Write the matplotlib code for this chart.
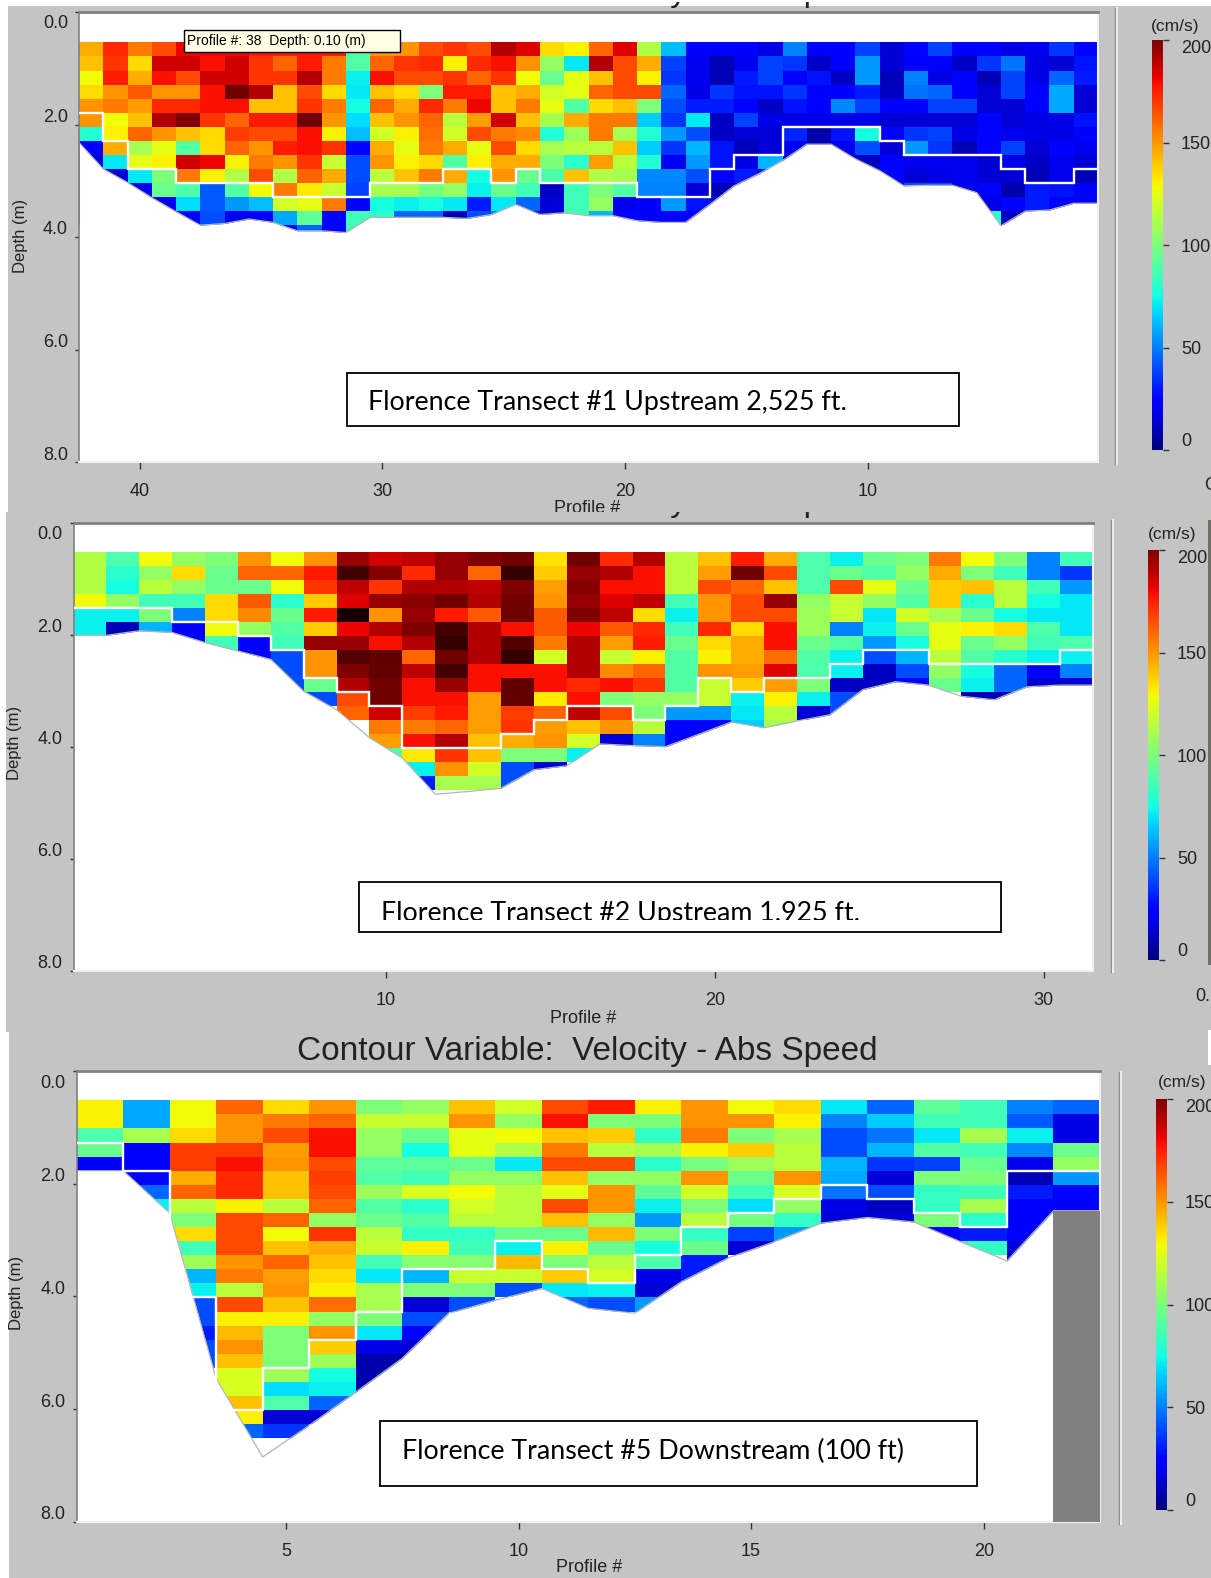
import numpy as np
import matplotlib
matplotlib.use('Agg')
import matplotlib.pyplot as plt
from matplotlib.colors import ListedColormap, Normalize
from matplotlib.colorbar import ColorbarBase
from matplotlib.patches import Rectangle

plt.rcParams['font.family'] = ['Liberation Sans', 'DejaVu Sans']

W, H = 1211, 1578
n = np.nan

# velocity per depth row (top to bottom), left to right as drawn
speed_1 = [
    [145,172,155,165,180,180,180,175,175,175,175,90,150,150,165,170,165,190,182,135,130,160,182,112,62,22,22,22,18,50,22,22,38,15,25,38,22,22,18,20,35,25],
    [140,170,135,185,185,178,185,170,160,175,155,90,160,170,172,130,172,178,150,105,70,190,165,145,38,20,10,20,38,35,12,22,55,15,22,22,12,35,48,18,15,28],
    [128,175,145,178,165,185,185,170,170,190,155,72,178,165,165,170,160,170,128,95,125,140,165,130,35,20,10,30,38,22,28,12,55,10,50,18,25,10,38,18,45,30],
    [135,150,162,150,150,178,205,190,140,165,135,70,140,135,100,175,175,140,145,120,125,160,165,165,45,18,35,28,28,35,22,22,30,12,48,45,22,15,38,22,58,15],
    [150,155,148,172,172,178,178,140,140,170,155,75,160,145,172,155,180,140,155,125,90,135,140,100,40,30,30,22,12,28,22,52,38,22,22,38,38,15,15,22,58,15],
    [150,128,140,190,200,170,160,175,175,205,150,68,140,150,160,115,148,185,140,110,145,155,155,65,35,70,12,38,18,18,18,18,18,15,15,15,15,22,15,18,18,28],
    [78,130,160,150,140,135,168,165,165,178,130,62,120,130,158,120,165,155,152,78,108,155,110,78,55,40,12,15,15,32,8,28,75,25,35,38,18,25,20,18,18,22],
    [25,145,110,125,90,135,160,150,175,178,170,25,145,125,155,145,125,165,135,110,115,115,140,65,35,60,28,10,15,20,10,20,40,15,55,35,10,25,38,15,22,20],
    [15,70,125,130,185,180,130,155,150,170,118,40,150,130,135,90,130,145,145,100,80,148,115,78,20,55,28,18,60,15,10,20,12,25,20,20,20,15,18,12,20,15],
    [15,15,70,100,155,130,112,165,112,160,145,40,115,140,155,145,75,150,95,88,140,112,110,52,52,40,25,30,25,25,25,22,22,25,15,18,20,15,15,10,20,10],
    [15,15,20,95,88,42,90,128,155,132,118,38,110,110,98,105,72,95,85,12,85,100,90,50,50,15,10,15,15,15,15,15,15,15,40,40,20,22,8,30,28,22],
    [15,15,20,20,68,42,55,62,120,125,155,25,75,72,75,70,30,70,45,15,85,105,20,22,55,28,15,15,15,15,15,15,15,15,15,15,15,18,25,30,22,22],
    [15,15,20,20,25,40,20,22,58,92,25,85,80,45,45,10,40,50,30,15,85,60,25,25,22,22,15,15,15,15,15,15,15,15,15,15,15,80,12,15,15,15],
    [n,n,n,n,n,40,20,22,25,45,25,85] + [n] * 30,
]
bed_1 = [2.32,2.79,3.03,3.30,3.55,3.79,3.76,3.68,3.74,3.89,3.89,3.92,3.65,3.65,3.65,3.65,3.67,3.60,3.42,3.60,3.57,3.62,3.62,
         3.71,3.74,3.74,3.42,3.09,2.88,2.64,2.35,2.35,2.61,2.82,3.09,3.08,3.08,3.21,3.80,3.54,3.52,3.40,3.40]
good_1 = [1.79,2.29,2.79,2.79,3.04,3.04,3.04,3.04,3.29,3.29,3.29,3.29,3.04,3.04,3.04,2.79,2.79,3.04,2.79,3.04,3.04,3.04,3.04,
          3.29,3.29,3.29,2.79,2.54,2.54,2.04,2.04,2.04,2.04,2.29,2.54,2.54,2.54,2.54,2.79,3.04,3.04,2.79]
ticks_1 = [40, 30, 20, 10]

speed_2 = [
    [112,88,128,105,100,150,128,150,195,185,188,195,200,205,133,205,172,190,115,140,175,145,88,72,95,100,155,128,100,50,85],
    [112,80,105,135,95,160,160,175,220,198,172,195,160,225,138,195,190,178,115,148,205,165,88,95,90,105,145,100,85,50,35],
    [112,75,115,105,95,95,128,170,188,170,190,190,188,200,148,198,178,178,115,165,160,140,88,165,125,95,138,140,115,85,55],
    [128,105,85,85,135,162,80,138,182,195,197,205,190,205,150,195,182,188,85,150,165,195,105,118,105,90,138,80,115,75,70],
    [72,72,100,50,135,152,95,175,235,150,195,175,162,205,162,200,188,135,72,150,165,165,108,118,70,120,110,95,75,70,70],
    [72,10,60,25,128,105,90,138,180,190,200,220,190,178,162,180,162,172,85,172,135,178,108,50,72,95,125,130,135,88,70],
    [72,10,60,25,85,25,85,195,195,178,190,225,190,215,155,190,148,175,95,135,145,178,95,90,55,75,125,95,105,85,88],
    [72,10,60,25,85,25,40,150,215,210,160,205,190,225,120,190,118,130,90,130,145,158,90,72,40,60,115,90,80,72,72],
    [n,n,n,n,n,25,40,150,200,210,188,220,178,178,178,190,152,160,90,150,148,182,88,72,12,40,105,75,45,25,50],
    [n,n,n,n,n,n,40,95,190,205,178,195,178,210,178,172,178,170,90,118,138,148,100,12,12,25,95,72,45,15,15],
    [n,n,n,n,n,n,40,40,165,205,178,178,148,210,132,178,100,105,105,118,72,130,72,40,n,n,n,10,10,n,n],
    [n,n,n,n,n,n,n,n,160,185,168,175,148,168,160,188,165,100,55,55,70,115,15,40] + [n] * 7,
    [n] * 9 + [155,155,160,148,170,148,140,150,115,25,25,65,110] + [n] * 9,
    [n] * 9 + [148,178,190,140,145,150,120,15,50,25,25] + [n] * 11,
    [n] * 9 + [90,132,170,140,100,100,72,15] + [n] * 14,
    [n] * 10 + [72,150,120,40,15] + [n] * 16,
    [n] * 10 + [30,110,110,40] + [n] * 17,
]
bed_2 = [2.01,2.01,1.93,1.96,2.14,2.29,2.44,3.01,3.34,3.84,4.20,4.85,4.80,4.74,4.41,4.34,3.95,3.98,4.00,3.78,3.56,3.66,3.54,3.43,
         2.98,2.84,2.90,3.10,3.16,2.93,2.90,2.90]
good_2 = [1.53,1.53,1.53,1.78,1.78,2.03,2.28,2.78,3.03,3.28,4.03,4.03,4.03,3.78,3.53,3.28,3.28,3.53,3.28,2.78,3.03,2.78,2.78,2.53,
          2.28,2.28,2.53,2.53,2.53,2.53,2.28]
ticks_2 = [10, 20, 30]

speed_3 = [
    [130,58,128,160,135,150,100,105,140,120,165,175,130,150,128,135,70,45,92,85,50,45],
    [130,58,128,150,155,160,118,118,150,105,178,100,100,150,150,130,50,65,85,85,42,18],
    [88,110,135,150,165,178,105,95,125,128,140,138,82,155,100,110,40,48,70,110,72,18],
    [95,22,168,168,148,178,105,75,125,112,155,115,110,130,138,115,40,60,90,85,52,95],
    [22,22,168,178,150,165,92,92,95,70,165,165,80,98,108,115,60,35,38,95,20,105],
    [n,25,145,172,140,168,90,85,105,105,140,105,105,150,95,150,58,15,100,100,10,55],
    [n,45,160,172,140,165,108,122,128,115,125,150,92,120,85,122,48,40,82,85,30,22],
    [n,72,115,130,115,160,90,80,120,115,165,150,72,100,68,105,18,12,82,110,22,22],
    [n,n,100,165,160,105,95,90,115,115,140,105,55,115,98,82,15,15,100,80,22,n],
    [n,n,135,165,128,170,115,82,82,95,95,142,100,82,38,55,n,n,25,30,22,n],
    [n,n,85,165,140,145,118,130,85,72,130,95,75,95,15,n,n,n,n,82,15,n],
    [n,n,108,150,160,140,85,102,102,142,100,115,88,30,n,n,n,n,n,n,15,n],
    [n,n,60,155,148,135,70,60,118,118,138,120,18,30] + [n] * 8,
    [n,n,72,115,150,130,110,100,100,40,70,72,15] + [n] * 9,
    [n,n,40,165,140,158,110,15,40,n,45,40,55] + [n] * 9,
    [n,n,40,130,130,105,100,40] + [n] * 14,
    [n,n,30,142,100,150,70,25] + [n] * 14,
    [n,n,40,150,100,138,18,15] + [n] * 14,
    [n,n,40,140,100,108,8,8] + [n] * 14,
    [n,n,n,122,108,75,8] + [n] * 15,
    [n,n,n,122,68,72,8] + [n] * 15,
    [n,n,n,140,88,45] + [n] * 16,
    [n,n,n,130,15,15] + [n] * 16,
    [n,n,n,45,35] + [n] * 17,
]
bed_3 = [1.77,1.77,2.52,5.46,6.85,6.29,5.70,5.10,4.30,4.07,3.86,4.21,4.30,3.74,3.32,3.03,2.70,2.60,2.68,3.03,3.37,2.48,2.48]
good_3 = [1.27,1.77,4.02,6.02,5.27,4.77,4.27,3.52,3.52,3.02,3.52,3.77,3.27,2.77,2.52,2.27,2.02,2.27,2.52,2.77,1.77,1.77]
ticks_3 = [5, 10, 15, 20]

depth_ticks = [0, 2, 4, 6, 8]
depth_labels = ['0.0', '2.0', '4.0', '6.0', '8.0']
speed_ticks = [0, 50, 100, 150, 200]

GRAY = '#c4c4c4'
jet = plt.get_cmap('jet')
# cells above the scale go on from dark red to nearly black
over = np.linspace([0.5, 0, 0, 1], [0.04, 0, 0, 1], 40)
cell_cmap = ListedColormap(np.vstack([jet(np.linspace(0, 1, 200)), over]))
cell_norm = Normalize(0, 240)


def px_axes(fig, left, top, right, bottom, **kw):
    return fig.add_axes([left / W, 1 - bottom / H, (right - left) / W, (bottom - top) / H], **kw)


def draw_panel(box, speed, bed, good, x_edges, ticks, first_depth):
    ax = px_axes(fig, *box, zorder=3)
    ax.set_facecolor('white')
    speed = np.ma.masked_invalid(np.array(speed, dtype=float))
    y_edges = first_depth + 0.25 * np.arange(speed.shape[0] + 1)
    ax.pcolormesh(x_edges, y_edges, speed, cmap=cell_cmap, norm=cell_norm, zorder=1)
    ax.fill_between(x_edges, bed, 8.5, color='white', lw=0, zorder=2)
    ax.plot(x_edges, bed, color='#b5b5b5', lw=0.9, zorder=2.5)
    ax.plot(np.repeat(x_edges, 2)[1:-1], np.repeat(good, 2), color='white', lw=1.7, zorder=3,
            solid_joinstyle='miter')
    ax.set_xlim(x_edges[0], x_edges[-1])
    ax.set_ylim(8, 0)
    ax.set_xticks(ticks)
    ax.set_yticks(depth_ticks)
    ax.set_yticklabels([])
    ax.tick_params(axis='x', length=5, width=1, pad=10, labelsize=13, color='#333333', labelcolor='#222222')
    ax.tick_params(axis='y', length=3, width=1, color='#333333')
    for i, lab in enumerate(depth_labels):
        shift = -12 if i == 0 else 7
        ax.annotate(lab, xy=(0, depth_ticks[i]), xycoords=ax.get_yaxis_transform(), xytext=(-11, shift),
                    textcoords='offset pixels', ha='right', va='center', fontsize=13, color='#222222')
    ax.spines['top'].set(color='#808080', lw=2)
    ax.spines['left'].set(color='#808080', lw=1.2)
    ax.spines['right'].set(color='#f0f0f0', lw=1.5)
    ax.spines['bottom'].set(color='#f0f0f0', lw=1.5)
    return ax


def draw_scale(left, top, right, bottom):
    cax = px_axes(fig, left, top, right, bottom, zorder=3)
    cb = ColorbarBase(cax, cmap=jet, norm=Normalize(0, 200), ticks=speed_ticks)
    cb.outline.set_visible(False)
    cax.tick_params(length=4, width=1, pad=9, labelsize=13, color='#333333', labelcolor='#222222')
    labels = cax.get_yticklabels()
    labels[0].set_va('bottom')
    labels[-1].set_va('top')


fig = plt.figure(figsize=(W / 100, H / 100), dpi=100, facecolor='white')

# window backgrounds, in pixels of the picture
bg = px_axes(fig, 0, 0, W, H, zorder=0)
bg.set_xlim(0, W)
bg.set_ylim(H, 0)
bg.axis('off')
title = 'Contour Variable:  Velocity - Abs Speed'
bg.add_patch(Rectangle((8, 6), W, 510, color=GRAY, lw=0, zorder=1))
# the title of each pasted window is cut, only its descenders show
t1 = bg.text(587, 1, title, ha='center', va='baseline', fontsize=24, color='#222222', zorder=1.5, clip_on=True)
t1.set_clip_path(Rectangle((0, 2), W, 20, transform=bg.transData))
bg.text(587, 508, 'Profile #', ha='center', va='center', fontsize=13, color='#222222', zorder=1.5)
bg.text(1204, 485, 'C', ha='left', va='center', fontsize=13, color='#222222', zorder=1.5)
bg.add_patch(Rectangle((6, 512), W, 520, color=GRAY, lw=0, zorder=2))
t2 = bg.text(587, 511, title, ha='center', va='baseline', fontsize=24, color='#222222', zorder=2.5, clip_on=True)
t2.set_clip_path(Rectangle((0, 512), W, 9, transform=bg.transData))
bg.text(583, 1018, 'Profile #', ha='center', va='center', fontsize=13, color='#222222', zorder=2.5)
bg.text(1195, 996, '0.', ha='left', va='center', fontsize=13, color='#222222', zorder=2.5)
bg.add_patch(Rectangle((1208, 520), 3, 445, color='#6f6f66', lw=0, zorder=2.5))
bg.add_patch(Rectangle((9, 1030), W, 548, color=GRAY, lw=0, zorder=3))
bg.add_patch(Rectangle((1208, 1030), 3, 35, color='white', lw=0, zorder=3.2))
bg.text(587, 1060, title, ha='center', va='baseline', fontsize=24, color='#222222', zorder=3.5)
bg.text(589, 1568, 'Profile #', ha='center', va='center', fontsize=13, color='#222222', zorder=3.5)

for x, y0, y1 in [(1115, 8, 464), (1111, 520, 972), (1119, 1072, 1524)]:
    bg.plot([x, x], [y0, y1], color='#8c8c8c', lw=1, zorder=4)
    bg.plot([x + 2, x + 2], [y0, y1], color='#ececec', lw=1.5, zorder=4)
for x, y in [(21, 236), (15, 743), (17, 1293)]:
    bg.text(x, y, 'Depth (m)', rotation=90, ha='center', va='center', fontsize=12, color='#222222', zorder=4)
for x, y in [(1175, 26), (1172, 535), (1182, 1083)]:
    bg.text(x, y, '(cm/s)', ha='center', va='center', fontsize=12.5, color='#222222', zorder=4)

edges_1 = 42.5 - np.arange(43)
edges_2 = 0.5 + np.arange(32)
edges_3 = 0.5 + np.arange(23)
ax1 = draw_panel((79, 12, 1098, 462), speed_1, bed_1, good_1, edges_1, ticks_1, 0.54)
ax2 = draw_panel((73.5, 522.7, 1093, 970.7), speed_2, bed_2, good_2, edges_2, ticks_2, 0.53)
ax3 = draw_panel((76.6, 1071, 1100, 1521.7), speed_3, bed_3, good_3, edges_3, ticks_3, 0.52)
# no data under the last profile
ax3.fill_between([21.5, 22.5], 2.48, 8, color='#808080', lw=0, zorder=4)

draw_scale(1152, 40, 1163, 450)
draw_scale(1148, 550, 1159, 960)
draw_scale(1156, 1099, 1167, 1510)

# boxes pasted on top of the picture
top = px_axes(fig, 0, 0, W, H, zorder=5)
top.patch.set_alpha(0)
top.set_xlim(0, W)
top.set_ylim(H, 0)
top.axis('off')
notes = [
    ('Florence Transect #1 Upstream 2,525 ft.', 347, 373, 959, 426, 368, 410, 426),
    ('Florence Transect #2 Upstream 1.925 ft.', 359, 882, 1001, 932, 381, 920.5, 920),
    ('Florence Transect #5 Downstream (100 ft)', 380, 1421, 977, 1486, 402, 1459, 1486),
]
for text, x0, y0, x1, y1, tx, ty, cut in notes:
    top.add_patch(Rectangle((x0, y0), x1 - x0, y1 - y0, facecolor='white', edgecolor='black', lw=1.3))
    t = top.text(tx, ty, text, ha='left', va='baseline', fontsize=19.3, family=['Lato', 'DejaVu Sans'],
                 color='black', clip_on=True)
    t.set_clip_path(Rectangle((x0, y0), x1 - x0, cut - y0, transform=top.transData))
top.add_patch(Rectangle((184, 30), 216, 22, facecolor='#ffffe6', edgecolor='black', lw=1))
top.text(187, 41, 'Profile #: 38  Depth: 0.10 (m)', ha='left', va='center', fontsize=10, color='black')

fig.savefig('out.png', dpi=100, facecolor='white')
